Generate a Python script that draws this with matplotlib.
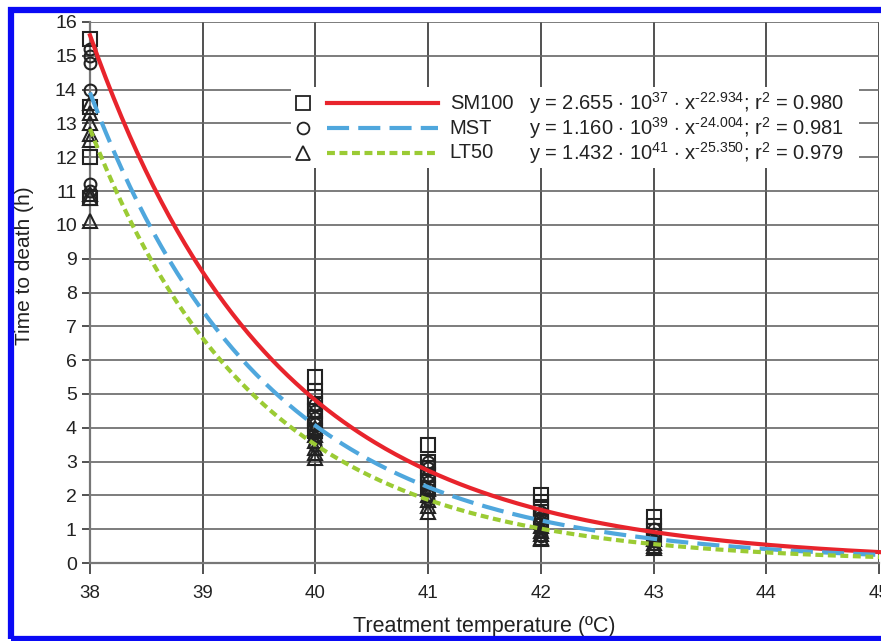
import numpy as np
import matplotlib.pyplot as plt
from matplotlib.patches import Rectangle
from matplotlib.lines import Line2D

plt.rcParams['font.family'] = ['Liberation Sans', 'DejaVu Sans']
plt.rcParams['mathtext.fontset'] = 'custom'
plt.rcParams['mathtext.rm'] = 'Liberation Sans'
plt.rcParams['mathtext.it'] = 'Liberation Sans'

# 觀測資料（溫度 vs 死亡時間）
temps = [38, 40, 41, 42, 43]
sm100_pts = [
    [15.5, 13.5, 12.0, 10.8],
    [5.5, 5.1, 4.9, 4.7, 4.5, 4.3, 4.1, 3.9],
    [3.5, 3.0, 2.8, 2.6, 2.4, 2.2],
    [2.0, 1.8, 1.65, 1.5, 1.35, 1.2],
    [1.35, 1.1, 0.95, 0.8, 0.7],
]
mst_pts = [
    [15.2, 15.0, 14.8, 14.0, 11.2, 11.0],
    [4.7, 4.5, 4.3, 4.1, 3.9, 3.7, 3.5],
    [3.0, 2.8, 2.6, 2.4, 2.2, 2.0, 1.9],
    [1.5, 1.35, 1.2, 1.05, 0.95, 0.8],
    [1.0, 0.85, 0.75, 0.65, 0.55],
]
lt50_pts = [
    [13.6, 13.3, 13.0, 12.7, 12.5, 10.9, 10.8, 10.1],
    [4.0, 3.8, 3.6, 3.4, 3.25, 3.1],
    [2.2, 2.0, 1.85, 1.7, 1.5],
    [1.1, 0.95, 0.85, 0.75, 0.7],
    [0.7, 0.6, 0.5, 0.45],
]

# 冪次擬合 y = a * x^b
names = ['SM100', 'MST', 'LT50']
fit_a = [2.655e37, 1.160e39, 1.432e41]
fit_b = [-22.934, -24.004, -25.350]
r2 = [0.980, 0.981, 0.979]
eq_texts = [
    r'y = 2.655 $\cdot$ 10$^{37}$ $\cdot$ x$^{‐22.934}$; r$^{2}$ = 0.980',
    r'y = 1.160 $\cdot$ 10$^{39}$ $\cdot$ x$^{‐24.004}$; r$^{2}$ = 0.981',
    r'y = 1.432 $\cdot$ 10$^{41}$ $\cdot$ x$^{‐25.350}$; r$^{2}$ = 0.979',
]

colors = ['#e8242c', '#4fa7dd', '#9bcb34']
markers = ['s', 'o', '^']
dashes = [None, (5.3, 2.2), (1.9, 1.1)]

fig = plt.figure(figsize=(8.81, 6.41), dpi=100)
ax = fig.add_axes([90 / 881, 78 / 641, 789 / 881, 541 / 641])

# 散點
for pts, mk in zip([sm100_pts, mst_pts, lt50_pts], markers):
    for t, vals in zip(temps, pts):
        ax.plot([t] * len(vals), vals, linestyle='none', marker=mk,
                markersize=10 if mk != 'o' else 8.5, markerfacecolor='none',
                markeredgecolor='#222222', markeredgewidth=1.5, zorder=3,
                clip_on=False)

# 擬合曲線
xs = np.linspace(38, 45, 300)
for a, b, c, d in zip(fit_a, fit_b, colors, dashes):
    ln, = ax.plot(xs, a * xs ** b, color=c, lw=3, zorder=4, clip_on=False)
    if d is not None:
        ln.set_dashes(d)

ax.set_xlim(38, 45)
ax.set_ylim(0, 16)
ax.set_xticks(range(38, 46))
ax.set_yticks(range(0, 17))
ax.grid(axis='x', color='#333333', lw=1.2, zorder=0)
ax.grid(axis='y', color='#666666', lw=1.2, zorder=0)
ax.set_axisbelow(True)
for s in ['top', 'right']:
    ax.spines[s].set_visible(False)
for s in ['left', 'bottom']:
    ax.spines[s].set_color('#777777')
    ax.spines[s].set_linewidth(1.6)
ax.tick_params(axis='y', labelsize=14, colors='#333333', length=6,
               width=1.2, labelcolor='#222222')
ax.tick_params(axis='x', labelsize=13.5, colors='#333333', length=8,
               width=1.2, labelcolor='#222222', pad=8)
ax.set_xlabel('Treatment temperature (ºC)', fontsize=15.5, color='#222222',
              labelpad=10)
ax.set_ylabel('Time to death (h)', fontsize=15, color='#222222')
ax.yaxis.set_label_coords(-0.071, 0.55)

# 圖例（白底，無邊框）
ax.add_patch(Rectangle((0.255, 0.73), 0.72, 0.15, transform=ax.transAxes,
                       facecolor='white', edgecolor='none', zorder=2))
row_y = [0.85, 0.804, 0.758]
for i in range(3):
    ax.add_line(Line2D([0.27], [row_y[i]], transform=ax.transAxes,
                       marker=markers[i], markersize=10 if i != 1 else 8.5,
                       markerfacecolor='none', markeredgecolor='#222222',
                       markeredgewidth=1.3, zorder=5))
    ln = Line2D([0.30, 0.441], [row_y[i], row_y[i]], transform=ax.transAxes,
                color=colors[i], lw=3, zorder=5)
    if dashes[i] is not None:
        ln.set_dashes(dashes[i])
    ax.add_line(ln)
    ax.text(0.456, row_y[i], names[i], transform=ax.transAxes, fontsize=14.5,
            va='center', ha='left', color='#222222', zorder=6)
    ax.text(0.556, row_y[i], eq_texts[i], transform=ax.transAxes, fontsize=14.5,
            va='center', ha='left', color='#222222', zorder=6)

# 藍色外框
fig.add_artist(Rectangle((11 / 881, 2.5 / 641), 1.2, 629 / 641,
                         transform=fig.transFigure, facecolor='none',
                         edgecolor='#0a0af5', lw=4.5))

fig.savefig('out.png', dpi=100)
